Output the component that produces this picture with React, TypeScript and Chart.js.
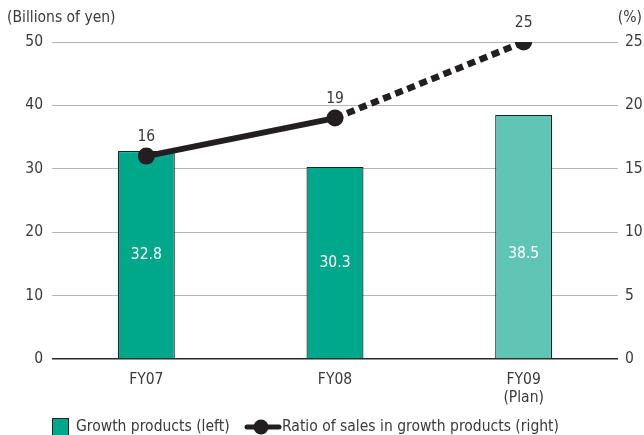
import React, { useEffect, useRef } from "react";
import { Chart, registerables } from "chart.js";

Chart.register(...registerables);

const categories: (string | string[])[] = ["FY07", "FY08", ["FY09", "(Plan)"]];
const growthProducts = [32.8, 30.3, 38.5];
const ratioSales = [16, 19, 25];
const barColors = ["#00A88B", "#00A88B", "#5FC5B4"];
const leftTicks = [0, 10, 20, 30, 40, 50];
const rightTicks = [0, 5, 10, 15, 20, 25];

const FONT = "'DejaVu Sans Condensed', 'DejaVu Sans', sans-serif";
const TXT = "#3a3a3a";
const FS = 15.5;

const labelsPlugin = {
  id: "labelsPlugin",
  afterDatasetsDraw(chart: any) {
    const ctx = chart.ctx;
    const barMeta = chart.getDatasetMeta(1);
    const lineMeta = chart.getDatasetMeta(0);
    const yL = chart.scales.y;
    ctx.save();
    ctx.font = `${FS}px ${FONT}`;
    ctx.textAlign = "center";
    ctx.textBaseline = "middle";
    ctx.fillStyle = "#ffffff";
    barMeta.data.forEach((el: any, i: number) => {
      const v = growthProducts[i];
      const y = yL.getPixelForValue(Math.min(v / 2, 16.6));
      ctx.fillText(String(v.toFixed(1)), el.x, y);
    });
    ctx.fillStyle = TXT;
    lineMeta.data.forEach((el: any, i: number) => {
      ctx.fillText(String(ratioSales[i]), el.x, el.y - 19);
    });
    // axis titles
    ctx.textAlign = "left";
    ctx.fillText("(Billions of yen)", 7, 18);
    ctx.textAlign = "right";
    ctx.fillText("(%)", 642, 18);
    // legend
    const ly = 427;
    ctx.fillStyle = barColors[0];
    ctx.fillRect(52.5, 418.5, 16, 18);
    ctx.strokeStyle = "#222";
    ctx.lineWidth = 1;
    ctx.strokeRect(52.5, 418.5, 16, 18);
    ctx.fillStyle = TXT;
    ctx.textAlign = "left";
    ctx.fillText(chart.data.datasets[1].label, 76, ly);
    ctx.strokeStyle = "#231F20";
    ctx.lineWidth = 5;
    ctx.lineCap = "round";
    ctx.beginPath();
    ctx.moveTo(247, ly);
    ctx.lineTo(279, ly);
    ctx.stroke();
    ctx.fillStyle = "#231F20";
    ctx.beginPath();
    ctx.arc(261, ly, 7.5, 0, Math.PI * 2);
    ctx.fill();
    ctx.fillStyle = TXT;
    ctx.fillText(chart.data.datasets[0].label, 282, ly);
    ctx.restore();
  },
};

export default function App() {
  const ref = useRef<HTMLCanvasElement | null>(null);
  useEffect(() => {
    document.body.style.margin = "0";
    const chart = new Chart(ref.current as HTMLCanvasElement, {
      type: "bar",
      data: {
        labels: categories,
        datasets: [
          {
            type: "line",
            label: "Ratio of sales in growth products (right)",
            data: ratioSales,
            yAxisID: "y1",
            borderColor: "#231F20",
            backgroundColor: "#231F20",
            borderWidth: 6,
            pointRadius: 8.5,
            pointBackgroundColor: "#231F20",
            pointBorderWidth: 0,
            order: 0,
            segment: {
              borderDash: (c: any) => (c.p1DataIndex === 2 ? [8, 5] : undefined),
              borderWidth: (c: any) => (c.p1DataIndex === 2 ? 6.5 : 6),
            },
          } as any,
          {
            type: "bar",
            label: "Growth products (left)",
            data: growthProducts,
            yAxisID: "y",
            backgroundColor: barColors,
            borderColor: "#1a2420",
            borderWidth: 1.2,
            barPercentage: 0.302,
            categoryPercentage: 1,
            order: 1,
          },
        ],
      },
      options: {
        animation: false,
        responsive: false,
        layout: { padding: { top: 42, left: 0, right: 0, bottom: 0 } },
        plugins: { legend: { display: false }, tooltip: { enabled: false } },
        scales: {
          x: {
            offset: true,
            grid: { display: false },
            border: { display: false },
            ticks: { color: TXT, font: { family: FONT, size: FS, lineHeight: 1.15 }, padding: 4, maxRotation: 0 },
            afterFit: (s: any) => {
              s.height = 76;
            },
          },
          y: {
            position: "left",
            min: 0,
            max: 50,
            afterBuildTicks: (s: any) => {
              s.ticks = leftTicks.map((v) => ({ value: v }));
            },
            grid: {
              color: (c: any) => (c.tick && c.tick.value === 0 ? "#2a2a2a" : "#b5b5b5"),
              lineWidth: (c: any) => (c.tick && c.tick.value === 0 ? 1.5 : 1),
              drawTicks: false,
            },
            border: { display: false },
            ticks: { color: TXT, font: { family: FONT, size: FS }, padding: 9 },
            afterFit: (s: any) => {
              s.width = 52;
            },
          },
          y1: {
            position: "right",
            min: 0,
            max: 25,
            afterBuildTicks: (s: any) => {
              s.ticks = rightTicks.map((v) => ({ value: v }));
            },
            grid: { display: false, drawTicks: false },
            border: { display: false },
            ticks: { color: TXT, font: { family: FONT, size: FS }, padding: 7 },
            afterFit: (s: any) => {
              s.width = 26;
            },
          },
        },
      },
      plugins: [labelsPlugin],
    });
    return () => chart.destroy();
  }, []);
  return <canvas ref={ref} width={644} height={435} style={{ display: "block" }} />;
}
